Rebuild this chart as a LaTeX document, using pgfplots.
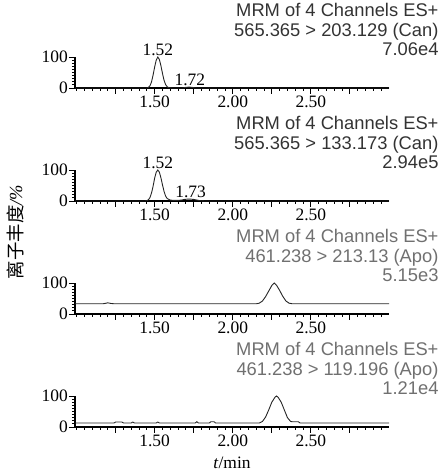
\documentclass[border=0pt]{standalone}
\usepackage{fontspec}
\setmainfont{Liberation Serif}
\newfontfamily\arial{Liberation Sans}
\newfontfamily\cjk{Noto Sans CJK SC}
\usepackage{pgfplots}
\pgfplotsset{compat=1.18}

\definecolor{ttldark}{HTML}{333333}
\definecolor{ttlgray}{HTML}{707070}

\pgfplotsset{
  chrom/.style={
    width=314bp, height=31bp, scale only axis,
    anchor=south west,
    xmin=0.99, xmax=3.0, ymin=0, ymax=100,
    axis lines=left,
    axis line style={-, line width=1.8bp},
    xtick={1.25,1.5,1.75,2.0,2.25,2.5,2.75},
    xticklabels={,1.50,,2.00,,2.50,},
    minor xtick={1.00,1.05,1.10,1.15,1.20,1.30,1.35,1.40,1.45,1.55,1.60,1.65,1.70,
                 1.80,1.85,1.90,1.95,2.05,2.10,2.15,2.20,2.30,2.35,2.40,2.45,
                 2.55,2.60,2.65,2.70,2.80,2.85,2.90,2.95},
    ytick={0,100},
    minor ytick={10,20,30,40,50,60,70,80,90},
    tick align=outside,
    major tick length=6bp, minor tick length=3bp,
    tick style={black, line width=0.9bp},
    tick label style={font=\fontsize{17.5}{17.5}\selectfont},
    xticklabel style={inner sep=1bp, yshift=-1bp},
    yticklabel style={inner sep=1bp},
    /pgf/number format/assume math mode=true,
    clip=false,
  },
  trace/.style={black!85, line width=0.9bp},
}
\tikzset{
  ttl/.style={anchor=base east, font=\arial\fontsize{18.4}{18.4}\selectfont},
  pk/.style={anchor=south, inner sep=1.5bp, font=\fontsize{17.5}{17.5}\selectfont},
}

\begin{document}
\begin{tikzpicture}
\path[use as bounding box] (0,0) rectangle (444bp,473bp);

% panel 1
\begin{axis}[chrom, at={(75bp,385bp)}]
  \addplot[trace] coordinates {
    (0.99,0) (1.45,0) (1.46,2) (1.47,7) (1.48,20) (1.49,42) (1.50,68) (1.51,90) (1.52,100)
    (1.53,92) (1.54,72) (1.55,47) (1.56,25) (1.57,11) (1.58,4) (1.59,1) (1.61,0)
    (1.68,0) (1.70,2) (1.72,3) (1.74,2) (1.76,0) (3.0,0)};
  \node[pk] at (axis cs:1.52,100) {1.52};
  \node[pk] at (axis cs:1.725,3) {1.72};
  \node[ttl, ttldark, xshift=53bp, yshift=40bp] at (rel axis cs:1,1) {MRM of 4 Channels ES+};
  \node[ttl, ttldark, xshift=53bp, yshift=20.5bp] at (rel axis cs:1,1) {565.365 > 203.129 (Can)};
  \node[ttl, ttldark, xshift=53bp, yshift=1bp] at (rel axis cs:1,1) {7.06e4};
\end{axis}

% panel 2
\begin{axis}[chrom, at={(75bp,272bp)}]
  \addplot[trace] coordinates {
    (0.99,0) (1.44,0) (1.45,1) (1.46,4) (1.47,11) (1.48,26) (1.49,48) (1.50,74) (1.51,93) (1.52,100)
    (1.53,93) (1.54,75) (1.55,52) (1.56,31) (1.57,16) (1.58,8) (1.60,3) (1.62,2)
    (1.65,2) (1.67,3) (1.69,5) (1.71,6) (1.73,6) (1.75,5) (1.77,3) (1.79,1) (1.82,0) (3.0,0)};
  \node[pk] at (axis cs:1.52,100) {1.52};
  \node[pk] at (axis cs:1.73,6) {1.73};
  \node[ttl, ttldark, xshift=53bp, yshift=40bp] at (rel axis cs:1,1) {MRM of 4 Channels ES+};
  \node[ttl, ttldark, xshift=53bp, yshift=20.5bp] at (rel axis cs:1,1) {565.365 > 133.173 (Can)};
  \node[ttl, ttldark, xshift=53bp, yshift=1bp] at (rel axis cs:1,1) {2.94e5};
\end{axis}

% panel 3
\begin{axis}[chrom, at={(75bp,159bp)}]
  \addplot[trace] coordinates {
    (0.99,33) (1.17,33) (1.19,35) (1.20,36) (1.22,34) (1.24,33) (2.15,33) (2.17,35)
    (2.19,42) (2.21,56) (2.23,74) (2.25,92) (2.265,100) (2.28,93) (2.30,76) (2.32,57)
    (2.34,42) (2.36,35) (2.38,33) (3.0,33)};
  \node[ttl, ttlgray, xshift=53bp, yshift=40bp] at (rel axis cs:1,1) {MRM of 4 Channels ES+};
  \node[ttl, ttlgray, xshift=53bp, yshift=20.5bp] at (rel axis cs:1,1) {461.238 > 213.13 (Apo)};
  \node[ttl, ttlgray, xshift=53bp, yshift=1bp] at (rel axis cs:1,1) {5.15e3};
\end{axis}

% panel 4
\begin{axis}[chrom, at={(75bp,46bp)}]
  \addplot[trace] coordinates {
    (0.99,13) (1.24,13) (1.25,16) (1.29,16) (1.30,13) (1.35,13) (1.36,16) (1.37,13)
    (1.51,13) (1.52,16) (1.53,13) (1.76,13) (1.77,17) (1.78,13) (1.85,13) (1.86,17)
    (1.88,17) (1.89,13) (2.17,13) (2.19,18) (2.21,32) (2.23,55) (2.25,80) (2.27,96)
    (2.28,100) (2.29,96) (2.31,80) (2.33,55) (2.35,30) (2.37,18) (2.38,17) (2.42,17)
    (2.43,13) (3.0,13)};
  \node[ttl, ttlgray, xshift=53bp, yshift=40bp] at (rel axis cs:1,1) {MRM of 4 Channels ES+};
  \node[ttl, ttlgray, xshift=53bp, yshift=20.5bp] at (rel axis cs:1,1) {461.238 > 119.196 (Apo)};
  \node[ttl, ttlgray, xshift=53bp, yshift=1bp] at (rel axis cs:1,1) {1.21e4};
\end{axis}

\node[rotate=90, font=\fontsize{18.5}{18.5}\selectfont] at (15bp,241bp) {{\cjk 离子丰度}\textit{/\%}};
\node[font=\fontsize{17.5}{17.5}\selectfont] at (232bp,10bp) {\textit{t}/min};
\end{tikzpicture}
\end{document}
